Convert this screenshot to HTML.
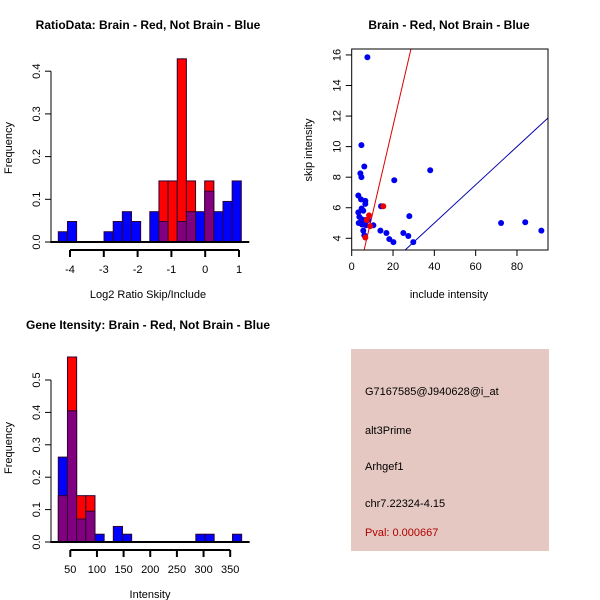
<!DOCTYPE html>
<html><head><meta charset="utf-8"><style>
body{margin:0;background:#fff;}
svg{display:block;font-family:"Liberation Sans",sans-serif;}
</style></head><body>
<svg id="c" width="600" height="600" xmlns="http://www.w3.org/2000/svg">
<rect width="600" height="600" fill="#fff"/>
<g>
<text x="148" y="29" font-size="12" font-weight="bold" text-anchor="middle">RatioData: Brain - Red, Not Brain - Blue</text>
<text x="148" y="298" font-size="11" text-anchor="middle">Log2 Ratio Skip/Include</text>
<text transform="translate(12,148) rotate(-90)" font-size="11" text-anchor="middle">Frequency</text>
<g id="h1"></g>
</g>
<g>
<text x="449" y="29" font-size="12" font-weight="bold" text-anchor="middle">Brain - Red, Not Brain - Blue</text>
<text x="449" y="298" font-size="11" text-anchor="middle">include intensity</text>
<text transform="translate(312,150) rotate(-90)" font-size="11" text-anchor="middle">skip intensity</text>
<g id="sc"></g>
</g>
<g>
<text x="148" y="329" font-size="12" font-weight="bold" text-anchor="middle">Gene Itensity: Brain - Red, Not Brain - Blue</text>
<text x="150" y="598" font-size="11" text-anchor="middle">Intensity</text>
<text transform="translate(12,448) rotate(-90)" font-size="11" text-anchor="middle">Frequency</text>
<g id="h2"></g>
</g>
<g>
<rect x="351" y="349" width="198" height="202" fill="#E6C8C2"/>
<g font-size="11">
<text x="365" y="395">G7167585@J940628@i_at</text>
<text x="365" y="434">alt3Prime</text>
<text x="365" y="470">Arhgef1</text>
<text x="365" y="507">chr7.22324-4.15</text>
<text x="365" y="536" fill="#B00000">Pval: 0.000667</text>
</g>
</g>
</svg>
<script>
// ratio histogram data
const ratioBinStart = -4.346;
const ratioBinWidth = 0.2707;
const ratioBlue = [0.024,0.048,0,0,0,0.024,0.048,0.071,0.048,0,0.071,0.048,0,0.048,0.071,0.071,0.119,0.071,0.095,0.143];
const ratioRed  = [0,0,0,0,0,0,0,0,0,0,0,0.143,0.143,0.429,0.143,0,0.143,0,0,0];
const ratioXTicks = [-4,-3,-2,-1,0,1];
const ratioYTicks = [0,0.1,0.2,0.3,0.4];
// intensity histogram data
const intBinStart = 27.5;
const intBinWidth = 17.2;
const intBlue = [0.262,0.405,0.071,0.095,0.024,0,0.048,0.024,0,0,0,0,0,0,0,0.024,0.024,0,0,0.024];
const intRed  = [0.143,0.571,0.143,0.143,0,0,0,0,0,0,0,0,0,0,0,0,0,0,0,0];
const intXTicks = [50,100,150,200,250,300,350];
const intYTicks = [0,0.1,0.2,0.3,0.4,0.5];
// scatter data
const blueInclude = [7.6,4.7,6.1,4.2,4.7,20.6,38,3.2,4.5,6.6,6.6,14.2,4.8,5.6,3.2,27.9,3.7,4.8,6.6,8,3.4,5,6.9,10.5,72.3,84,91.8,5.6,13.9,16.8,25,6.1,18.2,27.4,20.2,29.8];
const blueSkip    = [15.85,10.1,8.7,8.25,8.0,7.8,8.45,6.8,6.55,6.45,6.25,6.1,5.95,5.8,5.7,5.45,5.4,5.25,5.2,5.2,5.0,4.9,4.85,4.85,5.0,5.05,4.5,4.5,4.5,4.35,4.35,4.2,3.95,4.15,3.75,3.75];
const redInclude = [15.3,8.4,8.9,6.6,7.3];
const redSkip    = [6.1,5.5,4.8,4.05,5.2];
const redLine = [-0.25,0.58];   // intercept, slope
const blueLine = [0.0,0.125];
const scXTicks = [0,20,40,60,80];
const scYTicks = [4,6,8,10,12,14,16];

const NS='http://www.w3.org/2000/svg';
function mk(parent,tag,attrs){const e=document.createElementNS(NS,tag);for(const k in attrs)e.setAttribute(k,attrs[k]);parent.appendChild(e);return e;}

function hist(g,blue,red,start,width,xs,ys,xTicks,yTicks,axY,prefix){
  for(let i=0;i<blue.length;i++){
    const x0=xs(start+i*width),x1=xs(start+(i+1)*width);
    const b=blue[i],r=red[i],mx=Math.max(b,r),mn=Math.min(b,r);
    if(mx>0){
      const e=mk(g,'rect',{x:x0,y:ys(mx),width:x1-x0,height:ys(0)-ys(mx),fill:b>=r?'#0000FF':'#FF0000',stroke:'#300030','stroke-width':1});
      
      
    }
    if(mn>0){
      const e=mk(g,'rect',{x:x0,y:ys(mn),width:x1-x0,height:ys(0)-ys(mn),fill:'#800080',stroke:'#300030','stroke-width':1});
      
      
    }
  }
  const x0=xs(start),x1=xs(start+blue.length*width);
  const base=mk(g,'line',{x1:x0-8,x2:x1+8,y1:ys(0),y2:ys(0),stroke:'#000','stroke-width':2});
  
  
  const xa=mk(g,'line',{x1:xs(xTicks[0]),x2:xs(xTicks[xTicks.length-1]),y1:axY,y2:axY,stroke:'#000','stroke-width':2});
  
  
  xTicks.forEach(t=>{
    mk(g,'line',{x1:xs(t),x2:xs(t),y1:axY,y2:axY+7,stroke:'#000','stroke-width':2});
    const tx=mk(g,'text',{x:xs(t),y:axY+23,'font-size':11,'text-anchor':'middle'});tx.textContent=t;
    
    
  });
  const ax=51;
  const ya=mk(g,'line',{x1:ax,x2:ax,y1:ys(yTicks[0]),y2:ys(yTicks[yTicks.length-1]),stroke:'#000','stroke-width':1});
  
  
  yTicks.forEach(t=>{
    mk(g,'line',{x1:ax-6,x2:ax,y1:ys(t),y2:ys(t),stroke:'#000'});
    const tx=mk(g,'text',{transform:`translate(${ax-11},${ys(t)}) rotate(-90)`,'font-size':11,'text-anchor':'middle'});tx.textContent=t.toFixed(1);
    
    
  });
}
hist(document.getElementById('h1'),ratioBlue,ratioRed,ratioBinStart,ratioBinWidth,
  v=>70+(v+4)*33.8, v=>242-v*427, ratioXTicks,ratioYTicks,250,'ratio');
hist(document.getElementById('h2'),intBlue,intRed,intBinStart,intBinWidth,
  v=>70.3+(v-50)*0.533, v=>542-v*324, intXTicks,intYTicks,550,'intensity');

(function(){
  const g=document.getElementById('sc');
  const L=351.7,R=548,T=49,B=250;
  const xs=v=>351.7+v*2.066, ys=v=>238.3-(v-4)*15.28;
  const xmin=(L-351.7)/2.066,xmax=(R-351.7)/2.066;
  const cp=mk(g,'clipPath',{id:'scclip'});mk(cp,'rect',{x:L,y:T,width:R-L,height:B-T});
  [[redLine,'#DD0000','red-fit-line'],[blueLine,'#0000AA','blue-fit-line']].forEach(([ln,col,nm])=>{
    const e=mk(g,'line',{x1:xs(xmin),y1:ys(ln[0]+ln[1]*xmin),x2:xs(xmax),y2:ys(ln[0]+ln[1]*xmax),stroke:col,'stroke-width':1,'clip-path':'url(#scclip)'});
    
    
  });
  blueInclude.forEach((v,i)=>{
    const c=mk(g,'circle',{cx:xs(v),cy:ys(blueSkip[i]),r:3,fill:'#0000EE'});
    
    
  });
  redInclude.forEach((v,i)=>{
    const c=mk(g,'circle',{cx:xs(v),cy:ys(redSkip[i]),r:3,fill:'#EE0000'});
    
    
  });
  const box=mk(g,'rect',{x:L,y:T,width:R-L,height:B-T,fill:'none',stroke:'#000'});
  
  
  scXTicks.forEach(t=>{
    mk(g,'line',{x1:xs(t),x2:xs(t),y1:B,y2:B+6,stroke:'#000'});
    const tx=mk(g,'text',{x:xs(t),y:B+20,'font-size':11,'text-anchor':'middle'});tx.textContent=t;
    
    
  });
  scYTicks.forEach(t=>{
    mk(g,'line',{x1:L-6,x2:L,y1:ys(t),y2:ys(t),stroke:'#000'});
    const tx=mk(g,'text',{transform:`translate(${L-11},${ys(t)}) rotate(-90)`,'font-size':11,'text-anchor':'middle'});tx.textContent=t;
    
    
  });
})();
</script>
</body></html>
